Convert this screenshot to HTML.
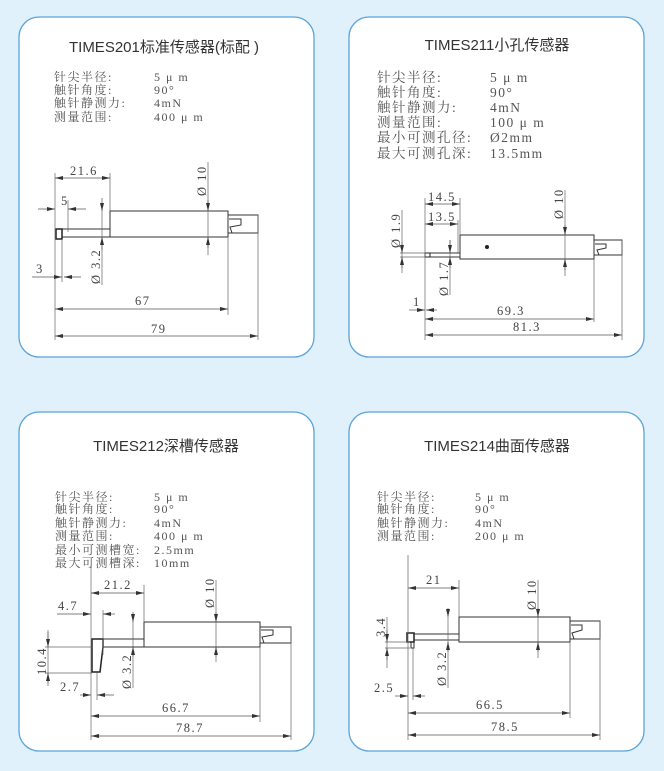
<!DOCTYPE html>
<html><head><meta charset="utf-8"><style>
html,body{margin:0;padding:0;background:#e0f1fc;}
svg{display:block}
.t{font-family:"Liberation Sans","Noto Sans CJK SC",sans-serif;font-size:15px;fill:#333;text-anchor:middle}
.s{font-family:"Liberation Serif","Noto Serif CJK SC",serif;font-size:12px;fill:#555;letter-spacing:1.5px}
.s2{font-family:"Liberation Serif","Noto Serif CJK SC",serif;font-size:13.5px;fill:#555;letter-spacing:1.5px}
.d{font-family:"Liberation Serif",serif;font-size:12.5px;fill:#444;letter-spacing:1.5px}
.l{stroke:#333;stroke-width:1;fill:none}
.e{stroke:#666;stroke-width:0.7;fill:none}
.dm{stroke:#555;stroke-width:0.7;fill:none;marker-start:url(#a);marker-end:url(#a)}
.ar{stroke:#555;stroke-width:0.7;fill:none;marker-end:url(#a)}
</style></head><body>
<svg width="664" height="771" viewBox="0 0 664 771" xmlns="http://www.w3.org/2000/svg">
<defs><marker id="a" markerUnits="userSpaceOnUse" markerWidth="8" markerHeight="4" refX="8" refY="2" orient="auto-start-reverse"><path d="M0,0 L8,2 L0,4z" fill="#333"/></marker></defs>
<rect width="664" height="771" fill="#e0f1fc"/>
<g fill="#fff" stroke="#5ba4d9" stroke-width="1.3">
<rect x="19" y="17" width="295" height="340" rx="20"/>
<rect x="349" y="17" width="295" height="340" rx="20"/>
<rect x="19" y="412" width="295" height="339" rx="20"/>
<rect x="349" y="412" width="295" height="339" rx="20"/>
</g>

<!-- Card 1 -->
<text class="t" x="164" y="52">TIMES201标准传感器(标配 )</text>
<g class="s"><text x="54" y="81">针尖半径:</text><text x="54" y="94">触针角度:</text><text x="54" y="107">触针静测力:</text><text x="54" y="121">测量范围:</text>
<text x="154" y="81">5 μ m</text><text x="154" y="94">90°</text><text x="154" y="107">4mN</text><text x="154" y="121">400 μ m</text></g>
<rect class="l" x="110" y="211" width="118" height="26"/>
<path class="l" d="M228,215 H258 V233 H228 M229,219 H241 V225 L230,227 L232,233"/>
<path class="l" d="M62,229 H110 M62,237 H110"/>
<rect x="56" y="229" width="6" height="10" fill="#fff" stroke="#222" stroke-width="1.5"/>
<path class="e" d="M55,173 V340 M110,173 V211 M68,200 V232 M62,239 V282 M228,237 V315 M258,215 V340 M102,205 V285 M208,162 V255"/>
<path class="dm" d="M55,178 H110"/><text class="d" x="70" y="175">21.6</text>
<path class="ar" d="M38,209 H55"/><path class="ar" d="M86,209 H68"/><text class="d" x="61" y="205">5</text>
<path class="ar" d="M32,277 H62"/><path class="ar" d="M81,277 H64"/><text class="d" x="36" y="273">3</text>
<path class="ar" d="M102,198 V211"/><path class="ar" d="M102,250 V237"/>
<text class="d" transform="translate(100,284) rotate(-90)">Ø 3.2</text>
<path class="ar" d="M208,200 V211"/><path class="ar" d="M208,248 V237"/>
<text class="d" transform="translate(206,196) rotate(-90)">Ø 10</text>
<path class="dm" d="M55,309 H228"/><text class="d" x="135" y="305">67</text>
<path class="dm" d="M55,336 H258"/><text class="d" x="151" y="333">79</text>

<!-- Card 2 -->
<text class="t" x="497" y="50">TIMES211小孔传感器</text>
<g class="s2"><text x="377" y="82">针尖半径:</text><text x="377" y="97">触针角度:</text><text x="377" y="112">触针静测力:</text><text x="377" y="127">测量范围:</text><text x="377" y="142">最小可测孔径:</text><text x="377" y="158">最大可测孔深:</text>
<text x="490" y="82">5 μ m</text><text x="490" y="97">90°</text><text x="490" y="112">4mN</text><text x="490" y="127">100 μ m</text><text x="490" y="142">Ø2mm</text><text x="490" y="158">13.5mm</text></g>
<rect class="l" x="460" y="235" width="134" height="24"/>
<path class="l" d="M594,240 H622 V255 H594 M595,244 H606 V248 L597,250 L599,255"/>
<path class="l" d="M430,253 H460 M430,257 H460"/>
<rect x="425" y="253" width="5" height="4" fill="#fff" stroke="#222" stroke-width="1"/>
<circle cx="487" cy="247" r="2" fill="#222"/>
<path class="e" d="M425,198 V340 M460,198 V235 M458,220 V253 M400,253 H425 M400,257 H425 M402,210 V273 M450,240 V295 M565,190 V276 M594,259 V322 M622,240 V340"/>
<path class="dm" d="M425,204 H460"/><text class="d" x="428" y="201">14.5</text>
<path class="dm" d="M425,224 H458"/><text class="d" x="428" y="221">13.5</text>
<path class="ar" d="M402,242 V253"/><path class="ar" d="M402,268 V257"/>
<text class="d" transform="translate(400,248) rotate(-90)">Ø 1.9</text>
<path class="ar" d="M450,240 V253"/><path class="ar" d="M450,268 V257"/>
<text class="d" transform="translate(448,296) rotate(-90)">Ø 1.7</text>
<path class="ar" d="M565,225 V235"/><path class="ar" d="M565,270 V259"/>
<text class="d" transform="translate(563,219) rotate(-90)">Ø 10</text>
<path class="ar" d="M409,310 H425"/><path class="ar" d="M437,310 H426"/><text class="d" x="413" y="306">1</text>
<path class="dm" d="M425,319 H594"/><text class="d" x="497" y="315">69.3</text>
<path class="dm" d="M425,335 H622"/><text class="d" x="513" y="331">81.3</text>

<!-- Card 3 -->
<text class="t" x="166" y="451">TIMES212深槽传感器</text>
<g class="s"><text x="55" y="501">针尖半径:</text><text x="55" y="513">触针角度:</text><text x="55" y="527">触针静测力:</text><text x="55" y="540">测量范围:</text><text x="55" y="554">最小可测槽宽:</text><text x="55" y="567">最大可测槽深:</text>
<text x="154" y="501">5 μ m</text><text x="154" y="513">90°</text><text x="154" y="527">4mN</text><text x="154" y="540">400 μ m</text><text x="154" y="554">2.5mm</text><text x="154" y="567">10mm</text></g>
<rect class="l" x="144" y="622" width="116" height="25"/>
<path class="l" d="M260,627 H291 V643 H260 M261,630 H273 V635 L262,637 L264,643"/>
<path class="l" d="M103,639 H144 M103,647 H144"/>
<path d="M92,639 H103 V647 L100,672 H92 Z" fill="#fff" stroke="#222" stroke-width="1.5"/>
<path class="e" d="M91,565 V740 M144,585 V622 M103,610 V655 M45,647 H92 M45,673 H92 M48,630 V683 M97,673 V700 M133,615 V688 M216,580 V662 M260,647 V722 M291,627 V740"/>
<path class="dm" d="M91,593 H144"/><text class="d" x="104" y="589">21.2</text>
<path class="ar" d="M57,614 H91"/><path class="ar" d="M115,614 H103"/><text class="d" x="58" y="610">4.7</text>
<path class="ar" d="M48,632 V647"/><path class="ar" d="M48,686 V673"/>
<text class="d" transform="translate(46,675) rotate(-90)">10.4</text>
<path class="ar" d="M80,695 H91"/><path class="ar" d="M114,695 H97"/><text class="d" x="60" y="691">2.7</text>
<path class="ar" d="M133,612 V622"/><path class="ar" d="M133,657 V647"/>
<text class="d" transform="translate(131,689) rotate(-90)">Ø 3.2</text>
<path class="ar" d="M216,612 V622"/><path class="ar" d="M216,657 V647"/>
<text class="d" transform="translate(214,608) rotate(-90)">Ø 10</text>
<path class="dm" d="M91,716 H260"/><text class="d" x="162" y="712">66.7</text>
<path class="dm" d="M91,736 H291"/><text class="d" x="176" y="732">78.7</text>

<!-- Card 4 -->
<text class="t" x="497" y="451">TIMES214曲面传感器</text>
<g class="s"><text x="377" y="501">针尖半径:</text><text x="377" y="513">触针角度:</text><text x="377" y="527">触针静测力:</text><text x="377" y="540">测量范围:</text>
<text x="475" y="501">5 μ m</text><text x="475" y="513">90°</text><text x="475" y="527">4mN</text><text x="475" y="540">200 μ m</text></g>
<rect class="l" x="459" y="617" width="111" height="25"/>
<path class="l" d="M570,621 H600 V639 H570 M571,625 H582 V630 L572,633 L574,639"/>
<path class="l" d="M414,634 H459 M414,640 H459"/>
<rect x="407" y="633" width="7" height="9" fill="#fff" stroke="#222" stroke-width="1.5"/>
<path class="l" d="M411,642 V648 H414 V642"/>
<path class="e" d="M408,555 V740 M459,580 V617 M385,642 H410 M385,648 H410 M387,617 V668 M413,648 V700 M448,617 V688 M538,580 V658 M570,642 V718 M600,621 V740"/>
<path class="dm" d="M408,588 H459"/><text class="d" x="426" y="584">21</text>
<path class="ar" d="M387,630 V642"/><path class="ar" d="M387,660 V648"/>
<text class="d" transform="translate(385,637) rotate(-90)">3.4</text>
<path class="ar" d="M395,696 H408"/><path class="ar" d="M425,696 H413"/><text class="d" x="374" y="692">2.5</text>
<path class="ar" d="M448,608 V617"/><path class="ar" d="M448,652 V642"/>
<text class="d" transform="translate(446,686) rotate(-90)">Ø 3.2</text>
<path class="ar" d="M538,608 V617"/><path class="ar" d="M538,652 V642"/>
<text class="d" transform="translate(536,610) rotate(-90)">Ø 10</text>
<path class="dm" d="M408,713 H570"/><text class="d" x="476" y="709">66.5</text>
<path class="dm" d="M408,735 H600"/><text class="d" x="491" y="731">78.5</text>
</svg>
</body></html>
